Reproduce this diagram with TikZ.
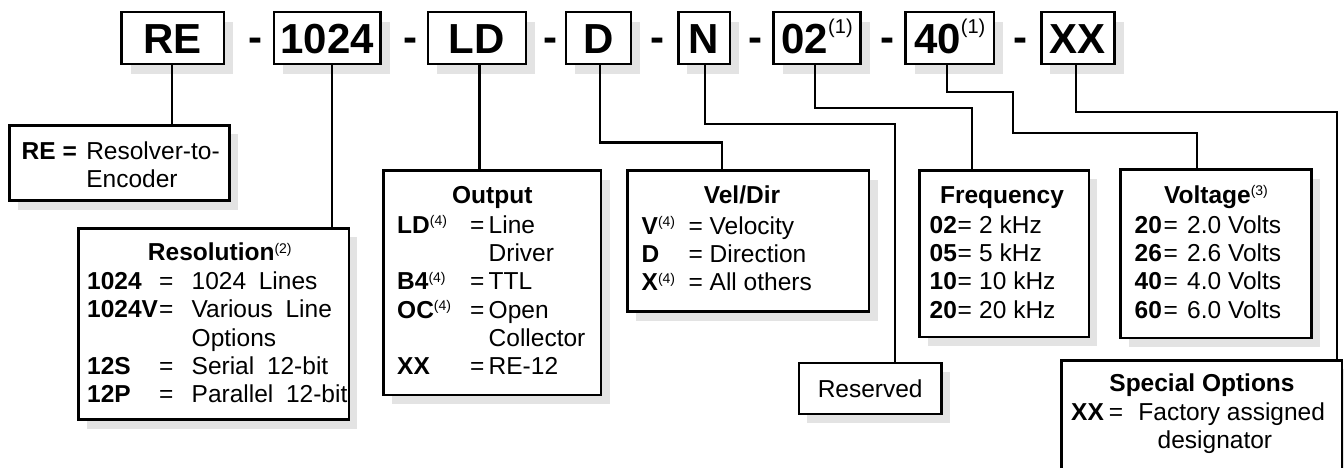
\documentclass[tikz,border=0pt]{standalone}
\usepackage{fontspec}
\setmainfont{Liberation Sans}
\usetikzlibrary{shadows}

\definecolor{shade}{gray}{0.89}

% small raised footnote marks
\newcommand\sps[1]{\raisebox{7.5pt}{\fontsize{14}{14}\selectfont\mdseries #1}}
\newcommand\topsup[1]{\raisebox{19.5pt}{\fontsize{20}{20}\selectfont\mdseries #1}}
% fixed-width key and "=" columns
\newcommand\kbox[2]{\makebox[#1pt][l]{\bfseries #2}}
\newcommand\ebox[1]{\makebox[#1pt][l]{=}}
\newcommand\textrows[1]{\begin{tabular}[t]{@{}l@{}}#1\end{tabular}}

\tikzset{
  codebox/.style={draw, line width=2.6pt, fill=white, inner sep=0pt,
    minimum height=52pt, text height=30.5pt, text depth=0pt,
    font=\fontsize{42}{50}\selectfont\bfseries,
    drop shadow={shadow xshift=9pt, shadow yshift=-10pt, fill=shade, opacity=1}},
  infobox/.style={draw, line width=2.6pt, fill=white, inner sep=0pt,
    font=\fontsize{24.5}{28.33}\selectfont,
    drop shadow={shadow xshift=8.5pt, shadow yshift=-9pt, fill=shade, opacity=1}},
  sep/.style={inner sep=0pt, anchor=base, font=\fontsize{42}{50}\selectfont\bfseries},
  head/.style={inner sep=0pt, anchor=base, font=\fontsize{24.5}{28.33}\selectfont\bfseries},
  body/.style={inner sep=0pt, anchor=base west, font=\fontsize{24.5}{28.33}\selectfont},
  wire/.style={line width=2.1pt},
}

\begin{document}
\begin{tikzpicture}[x=1pt, y=-1pt]
\useasboundingbox (0,0) rectangle (1344,467);

% ---- part number fields ----
\node[codebox, minimum width=102.5pt] (RE)    at (172.75,38) {RE};
\node[codebox, minimum width=106.9pt] (n1024) at (327.25,38) {1024};
\node[codebox, minimum width=97.8pt]  (LD)    at (476.9,38)  {LD};
\node[codebox, minimum width=65pt]    (D)     at (598.5,38)  {D};
\node[codebox, minimum width=51.8pt]  (N)     at (704.1,38)  {N};
\node[codebox, minimum width=87pt]    (f02)   at (817.1,38)  {02\topsup{(1)}};
\node[codebox, minimum width=88.5pt]  (v40)   at (949.75,38) {40\topsup{(1)}};
\node[codebox, minimum width=73.3pt]  (XX)    at (1077.85,38) {XX};

\node[sep] (s1) at (255,51.5)  {-};
\node[sep] (s2) at (410,51.5)  {-};
\node[sep] (s3) at (550.5,51.5) {-};
\node[sep] (s4) at (657.5,51.5) {-};
\node[sep] (s5) at (755,51.5)  {-};
\node[sep] (s6) at (887,51.5)  {-};
\node[sep] (s7) at (1020,51.5) {-};

% ---- description boxes ----
\node[infobox, minimum width=220pt,   minimum height=75.3pt]  (REd)  at (119.5,162.85) {};
\node[infobox, minimum width=270.1pt, minimum height=191.3pt] (res)  at (213.75,323.85) {};
\node[infobox, minimum width=217.6pt, minimum height=224.3pt] (out)  at (492.3,282.65) {};
\node[infobox, minimum width=241.5pt, minimum height=141pt]   (vel)  at (748.35,241) {};
\node[infobox, minimum width=169.3pt, minimum height=166.6pt] (freq) at (1004.15,253.5) {};
\node[infobox, minimum width=191pt,   minimum height=168.4pt] (volt) at (1216,253.9) {};
\node[infobox, minimum width=142.6pt, minimum height=50.9pt]  (resv) at (870.2,388.35) {Reserved};
\node[infobox, minimum width=280.6pt, minimum height=129.8pt] (spec) at (1201.5,425.1) {};

% ---- box texts ----
\node[body] (REdT) at (21.5,159.3)
  {\textrows{\kbox{64.6}{RE =}Resolver-to-\\\hspace{64.6pt}Encoder}};

\node[head] (resH) at (219.8,260.5) {Resolution\sps{(2)}};
\node[body] (resT) at (87,289.5) {\textrows{%
  \kbox{72}{1024}\ebox{32.5}1024\hspace{12.7pt}Lines\\
  \kbox{72}{1024V}\ebox{32.5}Various\hspace{12.7pt}Line\\
  \hspace{104.5pt}Options\\
  \kbox{72}{12S}\ebox{32.5}Serial\hspace{12.7pt}12-bit\\
  \kbox{72}{12P}\ebox{32.5}Parallel\hspace{12.7pt}12-bit}};

\node[head] (outH) at (492.3,203.3) {Output};
\node[body] (outT) at (397,233.3) {\textrows{%
  \kbox{73}{LD\sps{(4)}}\ebox{18.5}Line\\
  \hspace{91.5pt}Driver\\
  \kbox{73}{B4\sps{(4)}}\ebox{18.5}TTL\\
  \kbox{73}{OC\sps{(4)}}\ebox{18.5}Open\\
  \hspace{91.5pt}Collector\\
  \kbox{73}{XX}\ebox{18.5}RE-12}};

\node[head] (velH) at (742,203.3) {Vel/Dir};
\node[body] (velT) at (641.5,234) {\textrows{%
  \kbox{47}{V\sps{(4)}}\ebox{21}Velocity\\
  \kbox{47}{D}\ebox{21}Direction\\
  \kbox{47}{X\sps{(4)}}\ebox{21}All others}};

\node[head] (freqH) at (1002,203.3) {Frequency};
\node[body] (freqT) at (929.5,233.3) {\textrows{%
  \kbox{28}{02}\ebox{21.5}2 kHz\\
  \kbox{28}{05}\ebox{21.5}5 kHz\\
  \kbox{28}{10}\ebox{21.5}10 kHz\\
  \kbox{28}{20}\ebox{21.5}20 kHz}};

\node[head] (voltH) at (1216,203.3) {Voltage\sps{(3)}};
\node[body] (voltT) at (1134.5,233.3) {\textrows{%
  \kbox{29}{20}\ebox{23.5}2.0 Volts\\
  \kbox{29}{26}\ebox{23.5}2.6 Volts\\
  \kbox{29}{40}\ebox{23.5}4.0 Volts\\
  \kbox{29}{60}\ebox{23.5}6.0 Volts}};

\node[head] (specH) at (1202,391.7) {Special Options};
\node[body] (specT) at (1071,420) {\textrows{%
  \kbox{37.6}{XX}\ebox{29.6}Factory assigned\\
  \hspace{86.5pt}designator}};

% ---- leader lines ----
\draw[wire] (172.3,0 |- RE.south) -- (172.3,0 |- REd.north);
\draw[wire] (331.7,0 |- n1024.south) -- (331.7,0 |- res.north);
\draw[wire] (479.5,0 |- LD.south) -- (479.5,0 |- out.north);
\draw[wire] (600.4,0 |- D.south) |- (721.8,142.5) -- (721.8,0 |- vel.north);
\draw[wire] (704.6,0 |- N.south) |- (895,124) -- (895,0 |- resv.north);
\draw[wire] (815.4,0 |- f02.south) |- (972.3,108.3) -- (972.3,0 |- freq.north);
\draw[wire] (946.8,0 |- v40.south) |- (1013.3,92.3) |- (1197.3,132.7) -- (1197.3,0 |- volt.north);
\draw[wire] (1075.7,0 |- XX.south) |- (1336.7,112.3) -- (1336.7,0 |- spec.north);
\end{tikzpicture}
\end{document}
